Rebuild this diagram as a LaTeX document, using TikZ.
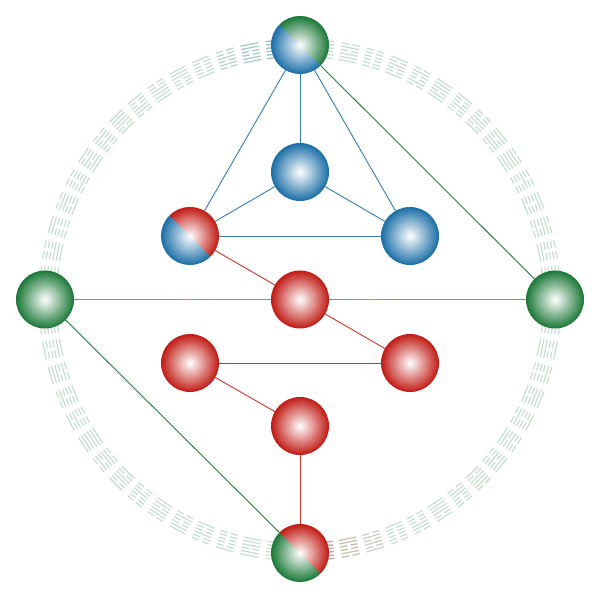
\documentclass[tikz,border=0pt]{standalone}
\usetikzlibrary{calc}
\definecolor{ringc}{RGB}{202,223,210}
\definecolor{blueS}{RGB}{30,112,168}
\definecolor{redS}{RGB}{194,30,24}
\definecolor{greenS}{RGB}{30,122,58}
\definecolor{edgeB}{RGB}{52,126,180}
\definecolor{edgeR}{RGB}{206,52,46}
\definecolor{edgeG}{RGB}{40,122,62}
\colorlet{hG}{edgeG!70!white}
\colorlet{hB}{edgeB!70!white}
\colorlet{hR}{edgeR!70!white}
\pgfdeclarelayer{ring}
\pgfdeclarelayer{edges}
\pgfsetlayers{ring,edges,main}
\tikzset{
  ball/.style={circle, minimum size=57pt, inner sep=0pt, line width=1pt, shade, inner color=white},
  bball/.style={ball, outer color=blueS, draw=blueS},
  rball/.style={ball, outer color=redS, draw=redS},
  gball/.style={ball, outer color=greenS, draw=greenS},
  conn/.style={line width=0.9pt},
  hconn/.style={line width=0.8pt},
  hexline/.style={line width=1.3pt}
}
\newcommand\splitball[5]{%
  \node[ball, outer color=#5, path picture={
      \shade[inner color=white, outer color=#4]
        (path picture bounding box.north west) -- (path picture bounding box.north east)
        -- (path picture bounding box.south east) -- cycle;}] (#1) at (#2,#3) {};
  \draw[line width=1pt, #4] ([shift={(135:28.5)}]#1.center) arc[start angle=135, end angle=-45, radius=28.5];
  \draw[line width=1pt, #5] ([shift={(-45:28.5)}]#1.center) arc[start angle=-45, end angle=-225, radius=28.5];
}
% gradient piece of a connector: from (ctr)+(#1,0), 10 steps of #2, colour #3 -> #4
\newcommand\gradpiece[4]{%
  \foreach \i in {0,...,9}{
    \pgfmathtruncatemacro\p{\i*10+5}
    \draw[hconn, color=#4!\p!#3] ($(ctr)+(#1+\i*#2,0)$) -- ($(ctr)+(#1+\i*#2+#2,0)$);
  }
}
\begin{document}
\begin{tikzpicture}[x=1pt,y=1pt]
\useasboundingbox (0,0) rectangle (600,600);
% spheres
\splitball{top}{300}{555}{greenS}{blueS}
\node[bball] (n2) at (300,428) {};
\splitball{n3}{190}{364}{redS}{blueS}
\node[bball] (n4) at (410,364) {};
\node[rball] (ctr) at (300,300.5) {};
\node[gball] (fl) at (45,300.5) {};
\node[gball] (fr) at (555,300.5) {};
\node[rball] (n8) at (190,237) {};
\node[rball] (n9) at (410,237) {};
\node[rball] (n10) at (300,174) {};
\splitball{bot}{300}{47}{redS}{greenS}
% connectors
\begin{pgfonlayer}{edges}
  \draw[conn, edgeB] (top) -- (n2);
  \draw[conn, edgeB] (top) -- (n3);
  \draw[conn, edgeB] (top) -- (n4);
  \draw[conn, edgeB] (n2) -- (n3);
  \draw[conn, edgeB] (n2) -- (n4);
  \draw[conn, edgeB] (n3) -- (n4);
  \draw[conn, edgeG] (top) -- (fr);
  \draw[conn, edgeG] (fl) -- (bot);
  \draw[conn, edgeR] (n3) -- (ctr);
  \draw[conn, edgeR] (ctr) -- (n9);
  \draw[conn, edgeR] (n8) -- (n9);
  \draw[conn, edgeR] (n8) -- (n10);
  \draw[conn, edgeR] (n10) -- (bot);
  % horizontal connector with colour gradient
  \draw[hconn, hG] (fl.east) -- ($(ctr)+(-140,0)$);
  \gradpiece{-140}{2.5}{hG}{hB}
  \gradpiece{-115}{2.5}{hB}{hR}
  \draw[hconn, hR] ($(ctr)+(-90,0)$) -- (ctr.west);
  \draw[hconn, hR] (ctr.east) -- ($(ctr)+(45,0)$);
  \gradpiece{45}{2.5}{hR}{hB}
  \gradpiece{70}{2.5}{hB}{hG}
  \draw[hconn, hG] ($(ctr)+(95,0)$) -- (fr.west);
\end{pgfonlayer}
% hexagram ring
\begin{pgfonlayer}{ring}
\foreach \k in {0,...,63}{
  \pgfmathtruncatemacro\v{mod(\k*23+5,64)}
  \def\hc{ringc}
  \ifnum\k=1 \def\hc{blueS!30!ringc}\fi
  \ifnum\k=2 \def\hc{blueS!18!ringc}\fi
  \ifnum\k=3 \def\hc{blueS!8!ringc}\fi
  \ifnum\k=33 \def\hc{redS!30!ringc}\fi
  \ifnum\k=34 \def\hc{redS!16!ringc}\fi
  \ifnum\k=35 \def\hc{redS!6!ringc}\fi
  \begin{scope}[shift={(300,300)}, rotate=5.625*\k, hexline, draw=\hc]
    \foreach \j in {0,...,5}{
      \pgfmathtruncatemacro\bit{mod(floor(\v/(2^\j)),2)}
      \pgfmathsetmacro\rr{243.5+3.4*\j}
      \ifnum\bit=1
        \draw (-9,\rr) -- (9,\rr);
      \else
        \draw (-9,\rr) -- (-1.6,\rr);
        \draw (1.6,\rr) -- (9,\rr);
      \fi
    }
  \end{scope}
}
\end{pgfonlayer}
\end{tikzpicture}
\end{document}
